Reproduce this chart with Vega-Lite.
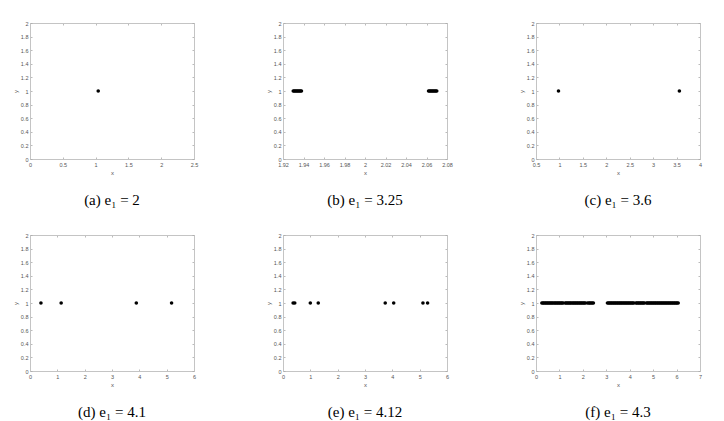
{
  "$schema": "https://vega.github.io/schema/vega-lite/v6.json",
  "background": "white",
  "padding": {"left": 11, "top": 20, "right": 2, "bottom": 2},
  "columns": 3,
  "spacing": {"row": 76, "column": 89},
  "bounds": "flush",
  "data": {"values": [
    {"p":"a","x":1.04,"y":1},
    {"p":"b","x":1.930,"y":1},{"p":"b","x":1.931,"y":1},{"p":"b","x":1.932,"y":1},{"p":"b","x":1.933,"y":1},{"p":"b","x":1.934,"y":1},{"p":"b","x":1.935,"y":1},{"p":"b","x":1.936,"y":1},{"p":"b","x":1.937,"y":1},{"p":"b","x":1.938,"y":1},
    {"p":"b","x":2.062,"y":1},{"p":"b","x":2.063,"y":1},{"p":"b","x":2.064,"y":1},{"p":"b","x":2.065,"y":1},{"p":"b","x":2.066,"y":1},{"p":"b","x":2.067,"y":1},{"p":"b","x":2.068,"y":1},{"p":"b","x":2.069,"y":1},{"p":"b","x":2.070,"y":1},
    {"p":"c","x":0.98,"y":1},{"p":"c","x":3.56,"y":1},
    {"p":"d","x":0.40,"y":1},{"p":"d","x":1.14,"y":1},{"p":"d","x":3.89,"y":1},{"p":"d","x":5.18,"y":1},
    {"p":"e","x":0.37,"y":1},{"p":"e","x":0.43,"y":1},{"p":"e","x":1.00,"y":1},{"p":"e","x":1.29,"y":1},{"p":"e","x":3.74,"y":1},{"p":"e","x":4.05,"y":1},{"p":"e","x":5.12,"y":1},{"p":"e","x":5.29,"y":1},
    {"p":"f","x":0.25,"y":1},{"p":"f","x":0.3,"y":1},{"p":"f","x":0.34,"y":1},{"p":"f","x":0.39,"y":1},{"p":"f","x":0.43,"y":1},{"p":"f","x":0.48,"y":1},{"p":"f","x":0.52,"y":1},{"p":"f","x":0.57,"y":1},{"p":"f","x":0.61,"y":1},{"p":"f","x":0.66,"y":1},
    {"p":"f","x":0.7,"y":1},{"p":"f","x":0.75,"y":1},{"p":"f","x":0.8,"y":1},{"p":"f","x":0.84,"y":1},{"p":"f","x":0.89,"y":1},{"p":"f","x":0.93,"y":1},{"p":"f","x":0.98,"y":1},{"p":"f","x":1.02,"y":1},{"p":"f","x":1.07,"y":1},{"p":"f","x":1.11,"y":1},
    {"p":"f","x":1.16,"y":1},{"p":"f","x":1.25,"y":1},{"p":"f","x":1.29,"y":1},{"p":"f","x":1.34,"y":1},{"p":"f","x":1.38,"y":1},{"p":"f","x":1.43,"y":1},{"p":"f","x":1.47,"y":1},{"p":"f","x":1.52,"y":1},{"p":"f","x":1.57,"y":1},{"p":"f","x":1.61,"y":1},
    {"p":"f","x":1.66,"y":1},{"p":"f","x":1.7,"y":1},{"p":"f","x":1.75,"y":1},{"p":"f","x":1.79,"y":1},{"p":"f","x":1.84,"y":1},{"p":"f","x":1.88,"y":1},{"p":"f","x":1.93,"y":1},{"p":"f","x":1.97,"y":1},{"p":"f","x":2.02,"y":1},{"p":"f","x":2.06,"y":1},
    {"p":"f","x":2.11,"y":1},{"p":"f","x":2.2,"y":1},{"p":"f","x":2.26,"y":1},{"p":"f","x":2.3,"y":1},{"p":"f","x":2.35,"y":1},{"p":"f","x":2.4,"y":1},{"p":"f","x":2.45,"y":1},
    {"p":"f","x":3.05,"y":1},{"p":"f","x":3.1,"y":1},{"p":"f","x":3.14,"y":1},{"p":"f","x":3.19,"y":1},{"p":"f","x":3.23,"y":1},{"p":"f","x":3.28,"y":1},{"p":"f","x":3.32,"y":1},{"p":"f","x":3.37,"y":1},{"p":"f","x":3.41,"y":1},{"p":"f","x":3.46,"y":1},
    {"p":"f","x":3.5,"y":1},{"p":"f","x":3.55,"y":1},{"p":"f","x":3.59,"y":1},{"p":"f","x":3.64,"y":1},{"p":"f","x":3.68,"y":1},{"p":"f","x":3.73,"y":1},{"p":"f","x":3.77,"y":1},{"p":"f","x":3.82,"y":1},{"p":"f","x":3.86,"y":1},{"p":"f","x":3.91,"y":1},
    {"p":"f","x":3.95,"y":1},{"p":"f","x":4.0,"y":1},{"p":"f","x":4.04,"y":1},{"p":"f","x":4.09,"y":1},{"p":"f","x":4.13,"y":1},{"p":"f","x":4.18,"y":1},{"p":"f","x":4.27,"y":1},{"p":"f","x":4.31,"y":1},{"p":"f","x":4.36,"y":1},{"p":"f","x":4.4,"y":1},
    {"p":"f","x":4.45,"y":1},{"p":"f","x":4.49,"y":1},{"p":"f","x":4.54,"y":1},{"p":"f","x":4.58,"y":1},{"p":"f","x":4.63,"y":1},{"p":"f","x":4.72,"y":1},{"p":"f","x":4.76,"y":1},{"p":"f","x":4.81,"y":1},{"p":"f","x":4.85,"y":1},{"p":"f","x":4.9,"y":1},
    {"p":"f","x":4.94,"y":1},{"p":"f","x":4.99,"y":1},{"p":"f","x":5.03,"y":1},{"p":"f","x":5.08,"y":1},{"p":"f","x":5.12,"y":1},{"p":"f","x":5.17,"y":1},{"p":"f","x":5.21,"y":1},{"p":"f","x":5.26,"y":1},{"p":"f","x":5.3,"y":1},{"p":"f","x":5.35,"y":1},
    {"p":"f","x":5.39,"y":1},{"p":"f","x":5.44,"y":1},{"p":"f","x":5.48,"y":1},{"p":"f","x":5.53,"y":1},{"p":"f","x":5.57,"y":1},{"p":"f","x":5.62,"y":1},{"p":"f","x":5.66,"y":1},{"p":"f","x":5.71,"y":1},{"p":"f","x":5.75,"y":1},{"p":"f","x":5.8,"y":1},
    {"p":"f","x":5.84,"y":1},{"p":"f","x":5.89,"y":1},{"p":"f","x":5.93,"y":1},{"p":"f","x":5.98,"y":1},{"p":"f","x":6.02,"y":1},{"p":"f","x":6.07,"y":1}
  ]},
  "config": {
    "view": {"stroke": "#c4c4c4", "strokeWidth": 1},
    "axis": {
      "domain": true, "domainColor": "#c4c4c4", "domainWidth": 1,
      "grid": false,
      "ticks": true, "tickColor": "#aaaaaa", "tickSize": -2, "tickWidth": 0.8,
      "labelFont": "Liberation Sans", "labelFontSize": 5.5, "labelColor": "#555555",
      "labelOverlap": false, "labelFlush": false, "labelBound": false,
      "titleFont": "Liberation Sans", "titleFontSize": 6, "titleFontWeight": "normal", "titleColor": "#555555", "titlePadding": 2,
      "format": "~g"
    },
    "axisX": {"labelPadding": 5},
    "axisY": {"labelPadding": 4},
    "title": {"orient": "bottom", "anchor": "middle", "frame": "group", "font": "Liberation Serif", "fontSize": 15, "fontWeight": "normal", "color": "black", "offset": 17},
    "point": {"filled": true, "color": "black", "size": 13, "opacity": 1}
  },
  "concat": [
    {
      "width": 164, "height": 136, "title": "(a)  e₁ = 2",
      "transform": [{"filter": "datum.p === 'a'"}],
      "layer": [
        {"mark": "point", "encoding": {
          "x": {"field": "x", "type": "quantitative", "scale": {"domain": [0, 2.5], "nice": false, "zero": false}, "axis": {"values": [0, 0.5, 1, 1.5, 2, 2.5], "title": "x"}},
          "y": {"field": "y", "type": "quantitative", "scale": {"domain": [0, 2], "nice": false}, "axis": {"values": [0, 0.2, 0.4, 0.6, 0.8, 1, 1.2, 1.4, 1.6, 1.8, 2], "title": "y"}}}},
        {"mark": {"type": "point", "opacity": 0}, "encoding": {
          "x": {"field": "x", "type": "quantitative", "axis": {"orient": "top", "values": [0, 0.5, 1, 1.5, 2, 2.5], "labels": false, "title": null}},
          "y": {"field": "y", "type": "quantitative", "axis": {"orient": "right", "values": [0, 0.2, 0.4, 0.6, 0.8, 1, 1.2, 1.4, 1.6, 1.8, 2], "labels": false, "title": null}}}}
      ],
      "resolve": {"axis": {"x": "independent", "y": "independent"}}
    },
    {
      "width": 164, "height": 136, "title": "(b)  e₁ = 3.25",
      "transform": [{"filter": "datum.p === 'b'"}],
      "layer": [
        {"mark": "point", "encoding": {
          "x": {"field": "x", "type": "quantitative", "scale": {"domain": [1.92, 2.08], "nice": false, "zero": false}, "axis": {"values": [1.92, 1.94, 1.96, 1.98, 2, 2.02, 2.04, 2.06, 2.08], "title": "x"}},
          "y": {"field": "y", "type": "quantitative", "scale": {"domain": [0, 2], "nice": false}, "axis": {"values": [0, 0.2, 0.4, 0.6, 0.8, 1, 1.2, 1.4, 1.6, 1.8, 2], "title": "y"}}}},
        {"mark": {"type": "point", "opacity": 0}, "encoding": {
          "x": {"field": "x", "type": "quantitative", "axis": {"orient": "top", "values": [1.92, 1.94, 1.96, 1.98, 2, 2.02, 2.04, 2.06, 2.08], "labels": false, "title": null}},
          "y": {"field": "y", "type": "quantitative", "axis": {"orient": "right", "values": [0, 0.2, 0.4, 0.6, 0.8, 1, 1.2, 1.4, 1.6, 1.8, 2], "labels": false, "title": null}}}}
      ],
      "resolve": {"axis": {"x": "independent", "y": "independent"}}
    },
    {
      "width": 164, "height": 136, "title": "(c)  e₁ = 3.6",
      "transform": [{"filter": "datum.p === 'c'"}],
      "layer": [
        {"mark": "point", "encoding": {
          "x": {"field": "x", "type": "quantitative", "scale": {"domain": [0.5, 4], "nice": false, "zero": false}, "axis": {"values": [0.5, 1, 1.5, 2, 2.5, 3, 3.5, 4], "title": "x"}},
          "y": {"field": "y", "type": "quantitative", "scale": {"domain": [0, 2], "nice": false}, "axis": {"values": [0, 0.2, 0.4, 0.6, 0.8, 1, 1.2, 1.4, 1.6, 1.8, 2], "title": "y"}}}},
        {"mark": {"type": "point", "opacity": 0}, "encoding": {
          "x": {"field": "x", "type": "quantitative", "axis": {"orient": "top", "values": [0.5, 1, 1.5, 2, 2.5, 3, 3.5, 4], "labels": false, "title": null}},
          "y": {"field": "y", "type": "quantitative", "axis": {"orient": "right", "values": [0, 0.2, 0.4, 0.6, 0.8, 1, 1.2, 1.4, 1.6, 1.8, 2], "labels": false, "title": null}}}}
      ],
      "resolve": {"axis": {"x": "independent", "y": "independent"}}
    },
    {
      "width": 164, "height": 136, "title": "(d)  e₁ = 4.1",
      "transform": [{"filter": "datum.p === 'd'"}],
      "layer": [
        {"mark": "point", "encoding": {
          "x": {"field": "x", "type": "quantitative", "scale": {"domain": [0, 6], "nice": false, "zero": false}, "axis": {"values": [0, 1, 2, 3, 4, 5, 6], "title": "x"}},
          "y": {"field": "y", "type": "quantitative", "scale": {"domain": [0, 2], "nice": false}, "axis": {"values": [0, 0.2, 0.4, 0.6, 0.8, 1, 1.2, 1.4, 1.6, 1.8, 2], "title": "y"}}}},
        {"mark": {"type": "point", "opacity": 0}, "encoding": {
          "x": {"field": "x", "type": "quantitative", "axis": {"orient": "top", "values": [0, 1, 2, 3, 4, 5, 6], "labels": false, "title": null}},
          "y": {"field": "y", "type": "quantitative", "axis": {"orient": "right", "values": [0, 0.2, 0.4, 0.6, 0.8, 1, 1.2, 1.4, 1.6, 1.8, 2], "labels": false, "title": null}}}}
      ],
      "resolve": {"axis": {"x": "independent", "y": "independent"}}
    },
    {
      "width": 164, "height": 136, "title": "(e)  e₁ = 4.12",
      "transform": [{"filter": "datum.p === 'e'"}],
      "layer": [
        {"mark": "point", "encoding": {
          "x": {"field": "x", "type": "quantitative", "scale": {"domain": [0, 6], "nice": false, "zero": false}, "axis": {"values": [0, 1, 2, 3, 4, 5, 6], "title": "x"}},
          "y": {"field": "y", "type": "quantitative", "scale": {"domain": [0, 2], "nice": false}, "axis": {"values": [0, 0.2, 0.4, 0.6, 0.8, 1, 1.2, 1.4, 1.6, 1.8, 2], "title": "y"}}}},
        {"mark": {"type": "point", "opacity": 0}, "encoding": {
          "x": {"field": "x", "type": "quantitative", "axis": {"orient": "top", "values": [0, 1, 2, 3, 4, 5, 6], "labels": false, "title": null}},
          "y": {"field": "y", "type": "quantitative", "axis": {"orient": "right", "values": [0, 0.2, 0.4, 0.6, 0.8, 1, 1.2, 1.4, 1.6, 1.8, 2], "labels": false, "title": null}}}}
      ],
      "resolve": {"axis": {"x": "independent", "y": "independent"}}
    },
    {
      "width": 164, "height": 136, "title": "(f)  e₁ = 4.3",
      "transform": [{"filter": "datum.p === 'f'"}],
      "layer": [
        {"mark": "point", "encoding": {
          "x": {"field": "x", "type": "quantitative", "scale": {"domain": [0, 7], "nice": false, "zero": false}, "axis": {"values": [0, 1, 2, 3, 4, 5, 6, 7], "title": "x"}},
          "y": {"field": "y", "type": "quantitative", "scale": {"domain": [0, 2], "nice": false}, "axis": {"values": [0, 0.2, 0.4, 0.6, 0.8, 1, 1.2, 1.4, 1.6, 1.8, 2], "title": "y"}}}},
        {"mark": {"type": "point", "opacity": 0}, "encoding": {
          "x": {"field": "x", "type": "quantitative", "axis": {"orient": "top", "values": [0, 1, 2, 3, 4, 5, 6, 7], "labels": false, "title": null}},
          "y": {"field": "y", "type": "quantitative", "axis": {"orient": "right", "values": [0, 0.2, 0.4, 0.6, 0.8, 1, 1.2, 1.4, 1.6, 1.8, 2], "labels": false, "title": null}}}}
      ],
      "resolve": {"axis": {"x": "independent", "y": "independent"}}
    }
  ]
}
